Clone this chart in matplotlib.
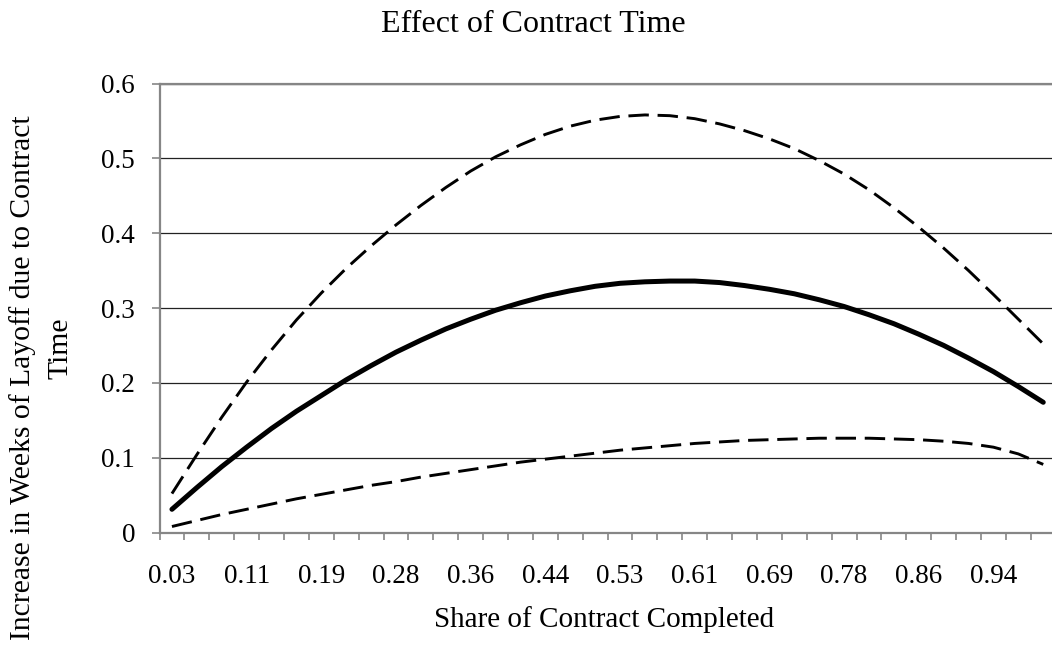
import numpy as np
import matplotlib
matplotlib.use("Agg")
import matplotlib.pyplot as plt
from matplotlib.ticker import FixedLocator, FuncFormatter

plt.rcParams['font.family'] = ['Liberation Serif', 'DejaVu Serif']

# Category axis: share of contract completed (36 categories)
share = [0.03, 0.06, 0.08, 0.11, 0.14, 0.17, 0.19, 0.22, 0.25, 0.28, 0.31, 0.33,
         0.36, 0.39, 0.42, 0.44, 0.47, 0.50, 0.53, 0.56, 0.58, 0.61, 0.64, 0.67,
         0.69, 0.72, 0.75, 0.78, 0.81, 0.83, 0.86, 0.89, 0.92, 0.94, 0.97, 1.00]

# Point estimate (solid)
estimate = [0.031, 0.060, 0.088, 0.114, 0.139, 0.162, 0.183, 0.204, 0.223, 0.241,
            0.257, 0.272, 0.285, 0.297, 0.307, 0.316, 0.323, 0.329, 0.333, 0.335,
            0.336, 0.336, 0.334, 0.330, 0.325, 0.319, 0.311, 0.302, 0.291, 0.279,
            0.265, 0.250, 0.233, 0.215, 0.195, 0.174]

# Upper bound (dashed)
upper = [0.052, 0.104, 0.154, 0.201, 0.244, 0.284, 0.320, 0.353, 0.383, 0.411,
         0.437, 0.461, 0.483, 0.502, 0.518, 0.532, 0.543, 0.551, 0.556, 0.558,
         0.557, 0.553, 0.546, 0.537, 0.526, 0.513, 0.497, 0.479, 0.458, 0.434,
         0.408, 0.380, 0.350, 0.318, 0.285, 0.252]

# Lower bound (dashed)
lower = [0.008, 0.016, 0.024, 0.031, 0.038, 0.045, 0.051, 0.057, 0.063, 0.068,
         0.074, 0.079, 0.084, 0.089, 0.094, 0.098, 0.102, 0.106, 0.110, 0.113,
         0.116, 0.119, 0.121, 0.123, 0.124, 0.125, 0.126, 0.126, 0.126, 0.125,
         0.124, 0.122, 0.119, 0.114, 0.105, 0.091]

y_ticks = [0, 0.1, 0.2, 0.3, 0.4, 0.5, 0.6]

title = "Effect of Contract Time"
xlabel = "Share of Contract Completed"
ylabel_1 = "Increase in Weeks of Layoff due to Contract"
ylabel_2 = "Time"

W, H = 1052, 646
fig = plt.figure(figsize=(W / 100, H / 100), dpi=100)
ax = fig.add_axes([159.5 / W, 1 - 532.5 / H, (1055.7 - 159.5) / W, 449 / H])

pos = np.arange(1, len(share) + 1)
dash = (0, (7, 3))
ax.plot(pos, upper, color='black', lw=2.1, linestyle=dash)
ax.plot(pos, lower, color='black', lw=2.1, linestyle=dash)
ax.plot(pos, estimate, color='black', lw=3.6, solid_capstyle='round',
        solid_joinstyle='round')

ax.set_xlim(0.5, len(share) + 0.5)
ax.set_ylim(0, 0.6)

# y axis
ax.set_yticks(y_ticks)
ax.yaxis.set_major_formatter(FuncFormatter(lambda v, p: "0" if v == 0 else f"{v:.1f}"))
ax.tick_params(axis='y', direction='out', length=5.6, width=1.2, color='#868686',
               pad=12, labelsize=19.5)
ax.yaxis.grid(True, color='#222222', lw=0.9)
ax.set_axisbelow(True)

# x axis: ticks between categories, labels every third category
ax.xaxis.set_major_locator(FixedLocator(np.arange(0.5, len(share) + 1, 1.0)))
ax.xaxis.set_major_formatter(FuncFormatter(lambda v, p: ""))
lab_pos = pos[::3]
ax.xaxis.set_minor_locator(FixedLocator(lab_pos))
ax.xaxis.set_minor_formatter(FuncFormatter(lambda v, p: f"{share[int(round(v)) - 1]:.2f}"))
ax.tick_params(axis='x', which='major', direction='out', length=5.2, width=1.2,
               color='#868686')
ax.tick_params(axis='x', which='minor', length=0, pad=23, labelsize=19.5)

for s in ['left', 'bottom', 'top']:
    ax.spines[s].set_color('#868686')
    ax.spines[s].set_linewidth(1.6)
ax.spines['right'].set_visible(False)

fig.text(533 / W, 1 - 25 / H, title, ha='center', va='center', fontsize=23)
fig.text(604 / W, 1 - 620 / H, xlabel, ha='center', va='center', fontsize=21)
fig.text(23 / W, 1 - 378 / H, ylabel_1, ha='center', va='center', rotation=90, fontsize=21.3)
fig.text(60 / W, 1 - 348 / H, ylabel_2, ha='center', va='center', rotation=90, fontsize=21.3)

fig.savefig("out.png", dpi=100)
